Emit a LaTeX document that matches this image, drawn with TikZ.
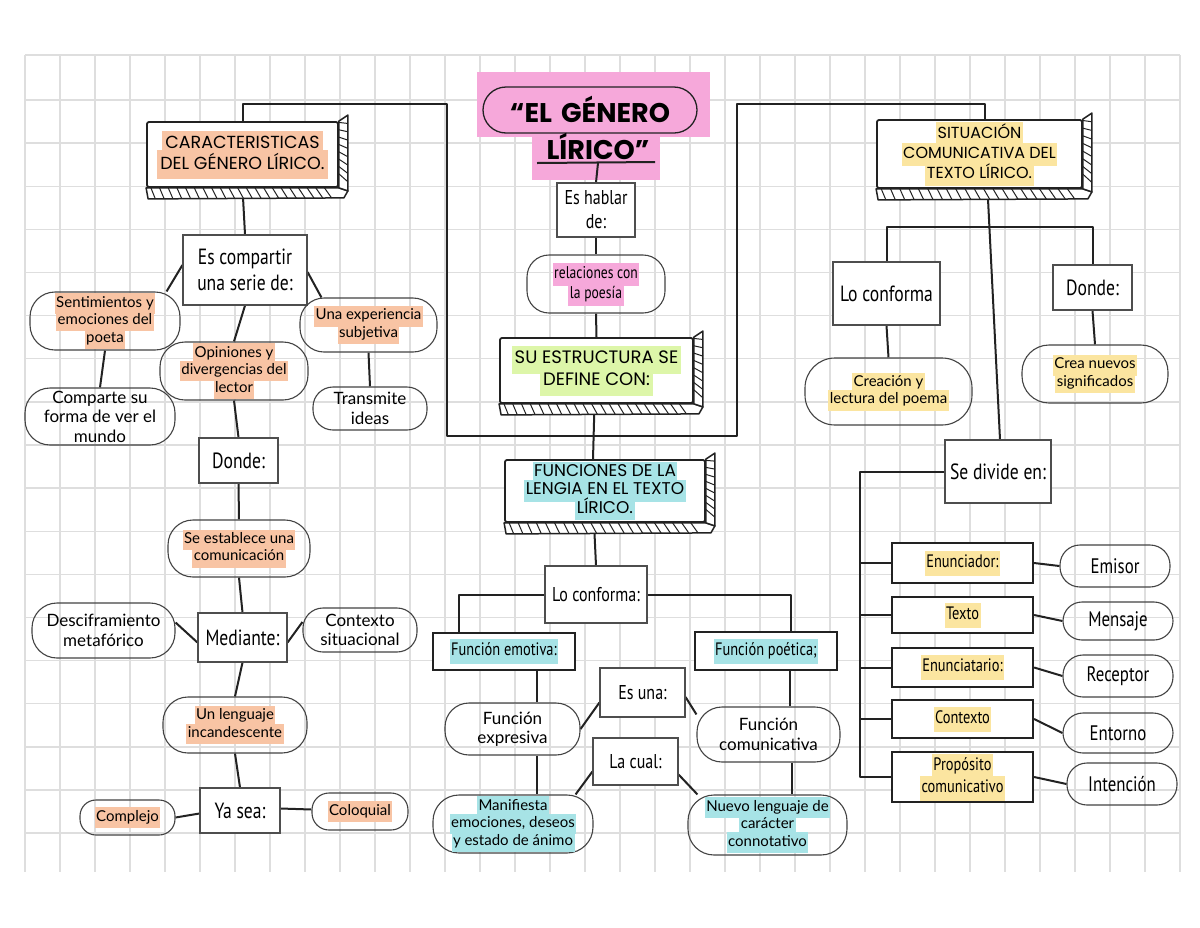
\documentclass[tikz,border=0pt]{standalone}
\usepackage{fontspec}
\setmainfont{PT Sans}
\newfontfamily\boxf[FakeStretch=0.8]{PT Sans}
\newfontfamily\handf{Lato}
\newfontfamily\hdrf{Poppins}
\usetikzlibrary{calc}
\pgfdeclarelayer{grid}
\pgfdeclarelayer{bg}
\pgfsetlayers{grid,bg,main}
\definecolor{ink}{HTML}{222222}
\definecolor{gridc}{HTML}{DEDEDE}
\definecolor{salmon}{HTML}{F8C4A4}
\definecolor{pinkhl}{HTML}{F6A8DA}
\definecolor{greenhl}{HTML}{DDF6A9}
\definecolor{cyanhl}{HTML}{A7E3E6}
\definecolor{yellowhl}{HTML}{FBE5A0}
\newcommand\hl[2]{{\fboxsep=1.5pt\colorbox{#1}{\strut #2}}}
\newcommand\hlh[2]{{\fboxsep=3pt\colorbox{#1}{\strut #2}}}
\newcommand\hatchit[1]{%
  \coordinate (#1-a) at (#1.south west);
  \coordinate (#1-b) at (#1.south east);
  \coordinate (#1-c) at (#1.north east);
  \coordinate (#1-d) at ([xshift=2pt,yshift=-11pt]#1.south west);
  \coordinate (#1-e) at ([xshift=5pt,yshift=-10pt]#1.south east);
  \coordinate (#1-f) at ([xshift=9pt,yshift=-3pt]#1.south east);
  \coordinate (#1-g) at ([xshift=9pt,yshift=6pt]#1.north east);
  \filldraw[fill=white,draw=ink,line width=1.5pt,line join=round] (#1-a) -- (#1-d) -- (#1-e) -- (#1-f) -- (#1-b) -- cycle;
  \filldraw[fill=white,draw=ink,line width=1.5pt,line join=round] (#1-b) -- (#1-f) -- (#1-g) -- (#1-c) -- cycle;
  \foreach \t [evaluate=\t as \u using \t+0.012] in {0.025,0.07,...,0.96} \draw[ink,line width=1pt] ($(#1-a)!\t!(#1-b)$) -- ($(#1-d)!\u!(#1-e)$);
  \foreach \t [evaluate=\t as \u using \t+0.09] in {0.02,0.13,...,0.9} \draw[ink,line width=1pt] ($(#1-c)!\t!(#1-b)$) -- ($(#1-g)!\u!(#1-f)$);
}
\tikzset{
  sz/.style n args={2}{minimum width=#1pt, minimum height=#2pt},
  pbox/.style={draw=ink!80, line width=1.1pt, fill=white, align=center, inner sep=0pt,
    font=\boxf\fontsize{22}{26}\selectfont},
  bbox/.style={draw=ink, line width=2.2pt, fill=white, align=center, inner sep=0pt,
    font=\boxf\fontsize{18}{22}\selectfont},
  oval/.style={draw=ink!85, line width=1.1pt, rounded corners=#1, align=center, inner sep=0pt,
    font=\handf\fontsize{15}{17.5}\selectfont},
  oval/.default=20pt,
  handL/.style={font=\handf\fontsize{17}{19.5}\selectfont},
  bt20/.style={font=\boxf\fontsize{20}{24}\selectfont},
  bt17/.style={font=\boxf\fontsize{17}{20}\selectfont},
  bt21/.style={font=\boxf\fontsize{21}{24}\selectfont},
  hdr/.style={draw=ink, line width=1.8pt, fill=white, rounded corners=2pt, align=center, inner sep=0pt,
    font=\hdrf\fontsize{17.5}{21}\selectfont},
  conn/.style={draw=ink, line width=2pt, line join=round},
}
\begin{document}
\lineskiplimit=-100pt
\begin{tikzpicture}[x=1pt,y=-1pt]
\useasboundingbox (0,0) rectangle (1200,927);
% grid paper
\begin{pgfonlayer}{grid}
\fill[white] (0,0) rectangle (1200,927);
\foreach \i in {0,...,33} \draw[gridc,line width=1.3pt] ({25+35*\i},55) -- ({25+35*\i},872);
\draw[gridc,line width=1.3pt] (25,55) -- (1180,55);
\foreach \k in {0,...,17} \draw[gridc,line width=1.3pt] (25,{100+43.125*\k}) -- (1180,{100+43.125*\k});
\end{pgfonlayer}

% ---------- title ----------
\begin{pgfonlayer}{bg}
\fill[pinkhl] (477,72) rectangle (710,137);
\fill[pinkhl] (532,133) rectangle (660,180);
\end{pgfonlayer}
\node[draw=ink, line width=1.3pt, rounded corners=23pt, sz={214}{46}] (titleov) at (590,110) {};
\node[font=\hdrf\bfseries\fontsize{27}{30}\selectfont, inner sep=0pt] (t1) at (590,109) {“EL\,\,GÉNERO};
\node[font=\hdrf\bfseries\fontsize{27}{30}\selectfont, inner sep=0pt] (t2) at (598,146) {LÍRICO”};
\coordinate (ulA) at (537,163);
\coordinate (ulB) at (655,162);
\coordinate (ulM) at (598,163);

% ---------- centre column ----------
\node[pbox, sz={78}{54}, bt20] (hablar) at (596,210) {Es hablar\\de:};
\node[oval=22pt, sz={138}{58}, bt17] (relac) at (596,284) {\hl{pinkhl}{relaciones con}\\\hl{pinkhl}{la poesía}};
\node[hdr, sz={193}{65}, font=\hdrf\fontsize{18}{22}\selectfont] (estr) at (596.5,370.5) {\hlh{greenhl}{SU ESTRUCTURA SE}\\\hlh{greenhl}{DEFINE CON:}};
\node[hdr, sz={200}{62}, font=\hdrf\fontsize{17}{18.5}\selectfont] (func) at (605,491) {\hl{cyanhl}{FUNCIONES DE LA}\\\hl{cyanhl}{LENGIA EN EL TEXTO}\\\hl{cyanhl}{LÍRICO.}};
\node[pbox, sz={102}{57}, bt20] (loconf) at (596,594.5) {Lo conforma:};
\node[bbox, sz={142}{37}] (emot) at (504,651.5) {\hl{cyanhl}{Función emotiva:}};
\node[bbox, sz={142}{38}] (poet) at (766,651) {\hl{cyanhl}{Función poética;}};
\node[oval=24pt, sz={135}{52}, handL] (expres) at (512.5,729) {Función\\expresiva};
\node[oval=25pt, sz={143}{55}, handL] (comun) at (768.5,734.5) {Función\\comunicativa};
\node[pbox, sz={85}{49}, bt20] (esuna) at (642.5,692.5) {Es una:};
\node[pbox, sz={85}{47}, bt20] (lacual) at (635.5,761.5) {La cual:};
\node[oval=26pt, sz={160}{58}] (manif) at (513,824) {\hl{cyanhl}{Manifiesta}\\\hl{cyanhl}{emociones, deseos}\\\hl{cyanhl}{y estado de ánimo}};
\node[oval=26pt, sz={159}{60}] (nuevo) at (767.5,825) {\hl{cyanhl}{Nuevo lenguaje de}\\\hl{cyanhl}{carácter}\\\hl{cyanhl}{connotativo}};

% ---------- left column ----------
\node[hdr, sz={191}{65}] (cara) at (242.5,154.5) {\hlh{salmon}{CARACTERISTICAS}\\\hlh{salmon}{DEL GÉNERO LÍRICO.}};
\node[pbox, sz={124}{70}] (escomp) at (245,270) {Es compartir\\una serie de:};
\node[oval=25pt, sz={150}{58}] (sent) at (105,321) {\hl{salmon}{Sentimientos y}\\\hl{salmon}{emociones del}\\\hl{salmon}{poeta}};
\node[oval=24pt, sz={137}{54}] (expsub) at (368.5,325) {\hl{salmon}{Una experiencia}\\\hl{salmon}{subjetiva}};
\node[oval=25pt, sz={148}{58}] (opin) at (234,371) {\hl{salmon}{Opiniones y}\\\hl{salmon}{divergencias del}\\\hl{salmon}{lector}};
\node[oval=25pt, sz={150}{57}, handL] (comp) at (100,416.5) {Comparte su\\forma de ver el\\mundo};
\node[oval=20pt, sz={114}{43}, handL] (trans) at (370,408.5) {Transmite\\ideas};
\node[pbox, sz={79}{45}] (donde) at (238.5,460.5) {Donde:};
\node[oval=25pt, sz={142}{57}] (seest) at (239,548.5) {\hl{salmon}{Se establece una}\\\hl{salmon}{comunicación}};
\node[pbox, sz={89}{49}] (mediante) at (242.5,637.5) {Mediante:};
\node[oval=25pt, sz={143}{55}, handL] (desc) at (103.5,630.5) {Desciframiento\\metafórico};
\node[oval=20pt, sz={114}{44}, handL] (ctx) at (360,630) {Contexto\\situacional};
\node[oval=25pt, sz={144}{56}] (leng) at (235,725) {\hl{salmon}{Un lenguaje}\\\hl{salmon}{incandescente}};
\node[pbox, sz={80}{45}] (yasea) at (240,810.5) {Ya sea:};
\node[oval=16pt, sz={95}{35}] (compl) at (127.5,817.5) {\hl{salmon}{Complejo}};
\node[oval=17pt, sz={96}{37}] (coloq) at (360,811.5) {\hl{salmon}{Coloquial}};

% ---------- right column ----------
\node[hdr, sz={205}{68}, font=\hdrf\fontsize{16}{20}\selectfont] (sit) at (979.5,154) {\hl{yellowhl}{SITUACIÓN}\\\hl{yellowhl}{COMUNICATIVA DEL}\\\hl{yellowhl}{TEXTO LÍRICO.}};
\node[pbox, sz={107}{63}] (loconfb) at (886.5,293.5) {Lo conforma};
\node[pbox, sz={79}{45}] (dondeb) at (1092.5,287.5) {Donde:};
\node[oval=30pt, sz={167}{67}] (creac) at (888.5,391.5) {\hl{yellowhl}{Creación y}\\\hl{yellowhl}{lectura del poema}};
\node[oval=27pt, sz={146}{58}] (crea) at (1095,374) {\hl{yellowhl}{Crea nuevos}\\\hl{yellowhl}{significados}};
\node[pbox, sz={106}{63}] (divide) at (998,471.5) {Se divide en:};
\node[bbox, sz={141}{40}] (enun) at (962.5,563) {\hl{yellowhl}{Enunciador:}};
\node[bbox, sz={141}{36}] (texto) at (962.5,615) {\hl{yellowhl}{Texto}};
\node[bbox, sz={141}{39}] (enunc) at (962.5,667.5) {\hl{yellowhl}{Enunciatario:}};
\node[bbox, sz={141}{38}] (ctxb) at (962.5,719) {\hl{yellowhl}{Contexto}};
\node[bbox, sz={141}{50}] (prop) at (962.5,777) {\hl{yellowhl}{Propósito}\\\hl{yellowhl}{comunicativo}};
\node[oval=20pt, sz={110}{42}, bt21] (emisor) at (1115,566) {Emisor};
\node[oval=19pt, sz={110}{38}, bt21] (mensaje) at (1118,621) {Mensaje};
\node[oval=20pt, sz={110}{42}, bt21] (receptor) at (1118,676) {Receptor};
\node[oval=20pt, sz={110}{40}, bt21] (entorno) at (1118,733) {Entorno};
\node[oval=20pt, sz={110}{42}, bt21] (intencion) at (1122,784) {Intención};

% 3D depth of headers
\hatchit{cara}
\hatchit{estr}
\hatchit{func}
\hatchit{sit}

% ---------- connectors ----------
\begin{pgfonlayer}{bg}
\coordinate (bkA) at (447,104);
\coordinate (bkB) at (447,436);
\coordinate (bkC) at (737,436);
\coordinate (bkD) at (737,104);
\draw[conn] (cara.north) |- (bkA) -- (bkB) -- (bkC) -- (bkD) -| ([xshift=5pt]sit.north);
\draw[conn] (ulA) -- (ulB);
\draw[conn] (ulM) -- (hablar.north);
\draw[conn] (hablar.south) -- (relac.north);
\draw[conn] (relac.south) -- (estr.north);
\draw[conn] ([xshift=-2pt]estr.south) -- ([xshift=-12pt]func.north);
\draw[conn] ([xshift=-11pt]func.south) -- (loconf.north);
\draw[conn] (loconf.west) -| ([xshift=27pt]emot.north west);
\draw[conn] (loconf.east) -| ([xshift=-47pt]poet.north east);
\draw[conn] ([xshift=33pt]emot.south) -- ([xshift=24.5pt]expres.north);
\draw[conn] ([xshift=24pt]poet.south) -- ([xshift=21.5pt]comun.north);
\draw[conn] ([yshift=-10pt]esuna.west) -- (expres.east);
\draw[conn] ([yshift=-4.5pt]esuna.east) -- ([yshift=-8pt]comun.north west);
\draw[conn] ([yshift=-10pt]lacual.west) -- ([xshift=-18pt]manif.north east);
\draw[conn] ([yshift=-13pt]lacual.east) -- ([xshift=10pt]nuevo.north west);
\draw[conn] ([xshift=24.5pt]expres.south) -- ([xshift=24pt]manif.north);
\draw[conn] ([xshift=23.5pt]comun.south) -- ([xshift=24.5pt]nuevo.north);
% left
\draw[conn] (cara.south) -- (escomp.north);
\draw[conn] ([yshift=5pt]escomp.west) -- ([xshift=-14pt]sent.north east);
\draw[conn] ([yshift=-2pt]escomp.east) -- ([xshift=22pt]expsub.north west);
\draw[conn] (escomp.south) -- (opin.north);
\draw[conn] (sent.south) -- (comp.north);
\draw[conn] (expsub.south) -- (trans.north);
\draw[conn] (opin.south) -- (donde.north);
\draw[conn] (donde.south) -- (seest.north);
\draw[conn] (seest.south) -- (mediante.north);
\draw[conn] ([yshift=-5pt]mediante.west) -- ([yshift=8pt]desc.east);
\draw[conn] ([yshift=-5pt]mediante.east) -- ([yshift=8pt]ctx.west);
\draw[conn] (mediante.south) -- (leng.north);
\draw[conn] (leng.south) -- (yasea.north);
\draw[conn] ([yshift=-3pt]yasea.west) -- (compl.east);
\draw[conn] ([yshift=2pt]yasea.east) -- ([yshift=2pt]coloq.west);
% right
\draw[conn] ([xshift=8pt]sit.south) -- ([xshift=2pt]divide.north);
\draw[conn] (loconfb.north) -- ++(0,-34) -| (dondeb.north);
\draw[conn] (loconfb.south) -- (creac.north);
\draw[conn] (dondeb.south) -- (crea.north);
\coordinate (tk) at (860,471.5);
\draw[conn] (divide.west) -- (tk) |- (prop.west);
\foreach \n in {enun,texto,enunc,ctxb} \draw[conn] (tk |- \n.west) -- (\n.west);
\draw[conn] (enun.east) -- (emisor.west);
\draw[conn] (texto.east) -- (mensaje.west);
\draw[conn] (enunc.east) -- (receptor.west);
\draw[conn] (ctxb.east) -- (entorno.west);
\draw[conn] (prop.east) -- (intencion.west);
\end{pgfonlayer}
\end{tikzpicture}
\end{document}
